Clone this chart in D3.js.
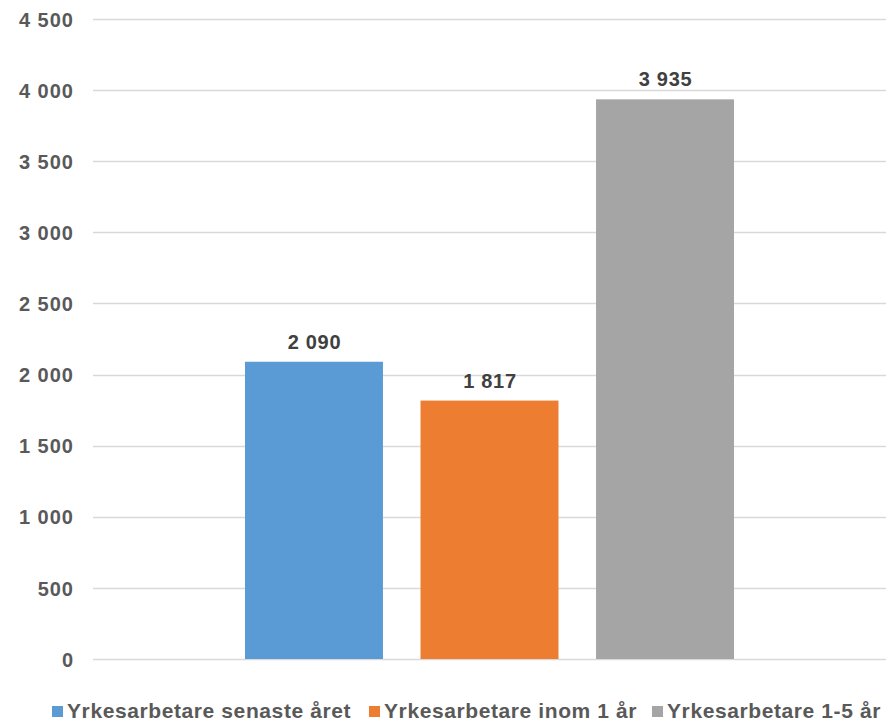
<!DOCTYPE html>
<html>
<head>
<meta charset="utf-8">
<script src="https://cdn.jsdelivr.net/npm/d3@7"></script>
<style>
  html, body { margin: 0; padding: 0; background: #fff; }
  svg { display: block; font-family: "Liberation Sans", Arial, sans-serif; }
</style>
</head>
<body>
<svg id="chart" width="892" height="722"></svg>
<script>
const series = ["Yrkesarbetare senaste året", "Yrkesarbetare inom 1 år", "Yrkesarbetare 1-5 år"];
const values = [2090, 1817, 3935];
const colors = ["#5b9bd5", "#ed7d31", "#a5a5a5"];
const yTicks = [0, 500, 1000, 1500, 2000, 2500, 3000, 3500, 4000, 4500];

(function () {
const fmt = v => d3.format(",")(v).replace(/,/g, " ");

const svg = d3.select("#chart");
const plotLeft = 93, plotRight = 886, plotTop = 19, plotBottom = 659;

const x = d3.scaleBand().domain(series).range([plotLeft, plotRight]).paddingInner(0.214).paddingOuter(0.866);
const y = d3.scaleLinear().domain([0, 4500]).range([plotBottom, plotTop]);

// gridlines
svg.append("g").selectAll("line").data(yTicks).join("line")
  .attr("x1", plotLeft).attr("x2", plotRight)
  .attr("y1", d => Math.round(y(d)) + 0.5).attr("y2", d => Math.round(y(d)) + 0.5)
  .attr("stroke", "#d9d9d9").attr("stroke-width", 1.3);

// y axis labels
const yAxis = d3.axisLeft(y).tickValues(yTicks).tickFormat(fmt).tickSize(0).tickPadding(0);
const ya = svg.append("g").attr("transform", "translate(74,0)").call(yAxis);
ya.select(".domain").remove();
ya.selectAll("text").attr("fill", "#595959").attr("font-size", 20).attr("font-weight", "bold")
  .attr("letter-spacing", "1px")
  .attr("font-family", "Liberation Sans, Arial, sans-serif").attr("dy", "0.36em");

// bars
svg.append("g").selectAll("rect").data(values).join("rect")
  .attr("x", (d, i) => x(series[i]))
  .attr("y", d => y(d))
  .attr("width", x.bandwidth())
  .attr("height", d => y(0) - y(d))
  .attr("fill", (d, i) => colors[i]);

// value labels
svg.append("g").selectAll("text").data(values).join("text")
  .attr("x", (d, i) => x(series[i]) + x.bandwidth() / 2 + 0.5)
  .attr("y", d => y(d) - 13)
  .attr("text-anchor", "middle")
  .attr("letter-spacing", "0.7px")
  .attr("fill", "#404040").attr("font-size", 20).attr("font-weight", "bold")
  .text(d => fmt(d));

// legend
const legendX = [52, 369, 652];
const lg = svg.append("g");
series.forEach((s, i) => {
  lg.append("rect").attr("x", legendX[i]).attr("y", 706).attr("width", 11).attr("height", 11).attr("fill", colors[i]);
  lg.append("text").attr("x", legendX[i] + 15).attr("y", 718)
    .attr("fill", "#595959").attr("font-size", 21).attr("font-weight", "bold")
    .attr("letter-spacing", "0.6px")
    .text(s);
});
})();
</script>
</body>
</html>
